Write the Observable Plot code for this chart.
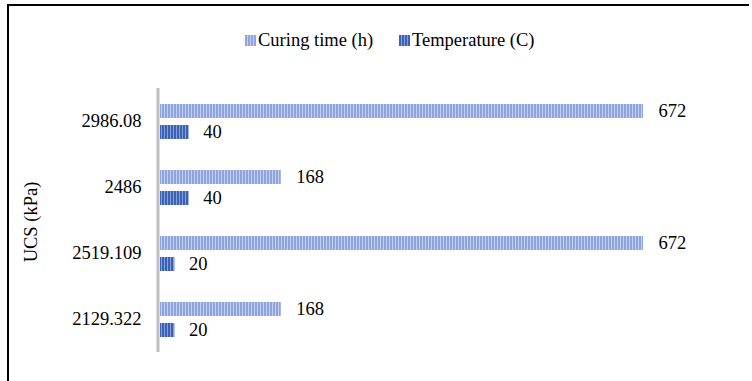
<!DOCTYPE html>
<html>
<head>
<meta charset="utf-8">
<script src="https://cdn.jsdelivr.net/npm/d3@7"></script>
<script src="https://cdn.jsdelivr.net/npm/@observablehq/plot@0.6"></script>
<style>
  html, body { margin: 0; padding: 0; background: #fff; }
  #wrap { position: relative; width: 752px; height: 381px; overflow: hidden;
          font-family: "Liberation Serif", "Times New Roman", serif; color: #000; }
  #frame { position: absolute; left: 7px; top: 4px; width: 740px; height: 400px;
           border-left: 2px solid #000; border-top: 2px solid #000; }
  #legend { position: absolute; left: 0; top: 0; width: 752px; height: 80px; }
  .key { position: absolute; top: 29px; font-size: 18.5px; line-height: 22px; white-space: nowrap;
         font-family: "Liberation Serif", serif; }
  .sw { position: absolute; top: 6px; width: 11px; height: 11px; }
  #chart { position: absolute; left: 0; top: 80px; }
  #chart text { font-family: "Liberation Serif", serif; }
</style>
</head>
<body>
<div id="wrap">
  <div id="frame"></div>
  <div id="legend"></div>
  <div id="chart"></div>
</div>
<script>
// Categories (UCS in kPa), top to bottom
const categories = ["2986.08", "2486", "2519.109", "2129.322"];
// Series names
const series = ["Curing time (h)", "Temperature (C)"];
// Series values, one per category
const curingTime = [672, 168, 672, 168];
const temperature = [40, 40, 20, 20];

const curingRows = categories.map((c, i) => ({ucs: c, series: series[0], value: curingTime[i]}));
const tempRows = categories.map((c, i) => ({ucs: c, series: series[1], value: temperature[i]}));

const font = '"Liberation Serif", "Times New Roman", serif';

const chart = Plot.plot({
  width: 752,
  height: 301,
  marginTop: 8,
  marginBottom: 29,
  marginLeft: 160,
  marginRight: 109,
  style: {fontFamily: font, fontSize: "18.5px", color: "#000", background: "transparent", overflow: "visible"},
  x: {domain: [0, 672], axis: null},
  y: {domain: series, axis: null, paddingInner: 1 / 3, paddingOuter: 0.738},
  fy: {domain: categories, padding: 0, label: null, axis: null},
  marks: [
    Plot.axisFy({anchor: "left", tickSize: 0, tickPadding: 19, label: null, fontSize: 18.5}),
    Plot.barX(curingRows, {fy: "ucs", y: "series", x: "value", fill: "url(#pat-curing)"}),
    Plot.barX(tempRows, {fy: "ucs", y: "series", x: "value", fill: "url(#pat-temp)"}),
    Plot.ruleX([0], {stroke: "#bfbfbf", strokeWidth: 3, dx: -2.5}),
    Plot.text(curingRows, {fy: "ucs", y: "series", x: "value", text: d => String(d.value), textAnchor: "start", dx: 15, fill: "#000"}),
    Plot.text(tempRows, {fy: "ucs", y: "series", x: "value", text: d => String(d.value), textAnchor: "start", dx: 14, fill: "#000"})
  ]
});

// Striped fills for the two series
const svg = d3.select(chart);
const defs = svg.insert("defs", ":first-child");
function stripes(id, base, light) {
  const p = defs.append("pattern").attr("id", id).attr("patternUnits", "userSpaceOnUse")
    .attr("width", 3).attr("height", 3);
  p.append("rect").attr("width", 3).attr("height", 3).attr("fill", base);
  p.append("rect").attr("x", 2).attr("width", 1).attr("height", 3).attr("fill", light);
}
stripes("pat-curing", "#8fa4dc", "#c3cfee");
stripes("pat-temp", "#3a62b4", "#8aa0d4");

// Vertical axis title
svg.append("text")
  .attr("transform", "translate(33,142) rotate(-90)")
  .attr("text-anchor", "middle")
  .attr("dominant-baseline", "middle")
  .style("font-family", font)
  .style("font-size", "18.5px")
  .attr("fill", "#000")
  .text("UCS (kPa)");

document.getElementById("chart").appendChild(chart);

// Legend above the plot
const legend = document.getElementById("legend");
const keyPos = [{left: 245, bg: "repeating-linear-gradient(90deg, #8fa4dc 0 2px, #c3cfee 2px 3px)"},
                {left: 399, bg: "repeating-linear-gradient(90deg, #3a62b4 0 2px, #8aa0d4 2px 3px)"}];
series.forEach((s, i) => {
  const k = document.createElement("div");
  k.className = "key";
  k.style.left = keyPos[i].left + "px";
  k.style.paddingLeft = "13px";
  const sw = document.createElement("span");
  sw.className = "sw";
  sw.style.left = "0px";
  sw.style.background = keyPos[i].bg;
  k.appendChild(sw);
  k.appendChild(document.createTextNode(s));
  legend.appendChild(k);
});
</script>
</body>
</html>
